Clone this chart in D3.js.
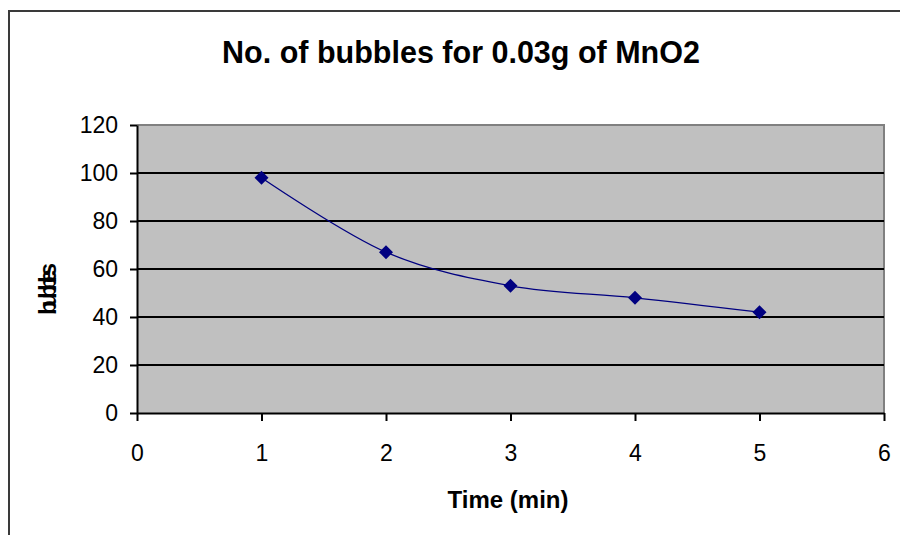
<!DOCTYPE html>
<html>
<head>
<meta charset="utf-8">
<script src="https://cdn.jsdelivr.net/npm/d3@7"></script>
<style>
html,body{margin:0;padding:0;background:#fff;overflow:hidden;}
svg{display:block;font-family:"Liberation Sans",Arial,sans-serif;}
</style>
</head>
<body>
<svg id="chart" width="900" height="535"></svg>
<script>
const timeValues = [1, 2, 3, 4, 5];
const bubbleValues = [98, 67, 53, 48, 42];
const xTicks = [0, 1, 2, 3, 4, 5, 6];
const yTicks = [0, 20, 40, 60, 80, 100, 120];
const titleText = "No. of bubbles for 0.03g of MnO2";
const xTitle = "Time (min)";
const yTitle = "bubbles";

const svg = d3.select("#chart");
const plot = {left: 137, top: 125, right: 884, bottom: 413};

// outer frame (left and top edges visible only)
svg.append("path").attr("d", "M9,535V11H900")
  .attr("fill", "none").attr("stroke", "#3a3a3a").attr("stroke-width", 2);

const x = d3.scaleLinear().domain([0, 6]).range([plot.left, plot.right]);
const y = d3.scaleLinear().domain([0, 120]).range([plot.bottom, plot.top]);

// plot background
svg.append("rect").attr("x", plot.left).attr("y", plot.top)
  .attr("width", plot.right - plot.left).attr("height", plot.bottom - plot.top)
  .attr("fill", "#c0c0c0");

// top/right border gray
svg.append("path")
  .attr("d", `M${plot.left},${plot.top}H${plot.right}V${plot.bottom}`)
  .attr("fill", "none").attr("stroke", "#808080").attr("stroke-width", 2);

// gridlines
svg.append("g").selectAll("line").data(yTicks.filter(d => d > 0 && d < 120)).join("line")
  .attr("x1", plot.left).attr("x2", plot.right)
  .attr("y1", d => y(d)).attr("y2", d => y(d))
  .attr("stroke", "#000").attr("stroke-width", 2);

// y axis
const yAxis = svg.append("g").attr("transform", `translate(${plot.left},0)`)
  .call(d3.axisLeft(y).tickValues(yTicks).tickFormat(d3.format("d")).tickSize(7).tickPadding(12).tickSizeOuter(0));
yAxis.select(".domain").attr("stroke", "#000").attr("stroke-width", 2);
yAxis.selectAll(".tick line").attr("stroke", "#000").attr("stroke-width", 2);
yAxis.selectAll("text").attr("font-size", 23).attr("fill", "#000")
  .attr("font-family", "Liberation Sans, Arial, sans-serif");

// x axis
const xAxis = svg.append("g").attr("transform", `translate(0,${plot.bottom})`)
  .call(d3.axisBottom(x).tickValues(xTicks).tickFormat(d3.format("d")).tickSize(8).tickPadding(24).tickSizeOuter(0));
xAxis.select(".domain").attr("stroke", "#000").attr("stroke-width", 2);
xAxis.selectAll(".tick line").attr("stroke", "#000").attr("stroke-width", 2);
xAxis.selectAll("text").attr("font-size", 23).attr("fill", "#000")
  .attr("font-family", "Liberation Sans, Arial, sans-serif");

// series line (smoothed)
const pts = timeValues.map((t, i) => [t, bubbleValues[i]]);
const line = d3.line().x(d => x(d[0])).y(d => y(d[1])).curve(d3.curveCatmullRom.alpha(0));
svg.append("path").datum(pts).attr("d", line)
  .attr("fill", "none").attr("stroke", "#000080").attr("stroke-width", 1.3);

// markers
svg.append("g").selectAll("path").data(pts).join("path")
  .attr("transform", d => `translate(${x(d[0])},${y(d[1])})`)
  .attr("d", "M0,-7L7,0L0,7L-7,0Z")
  .attr("fill", "#000080");

// title
svg.append("text").attr("x", 461).attr("y", 63).attr("text-anchor", "middle")
  .attr("font-size", 30.5).attr("font-weight", "bold").text(titleText);

// x title
svg.append("text").attr("x", 508).attr("y", 508).attr("text-anchor", "middle")
  .attr("font-size", 24).attr("font-weight", "bold").text(xTitle);

// y title (compressed)
svg.append("text").attr("transform", "translate(56,289) rotate(-90)")
  .attr("text-anchor", "middle").attr("font-size", 24).attr("font-weight", "bold")
  .attr("textLength", 52).attr("lengthAdjust", "spacing").text(yTitle);
</script>
</body>
</html>
